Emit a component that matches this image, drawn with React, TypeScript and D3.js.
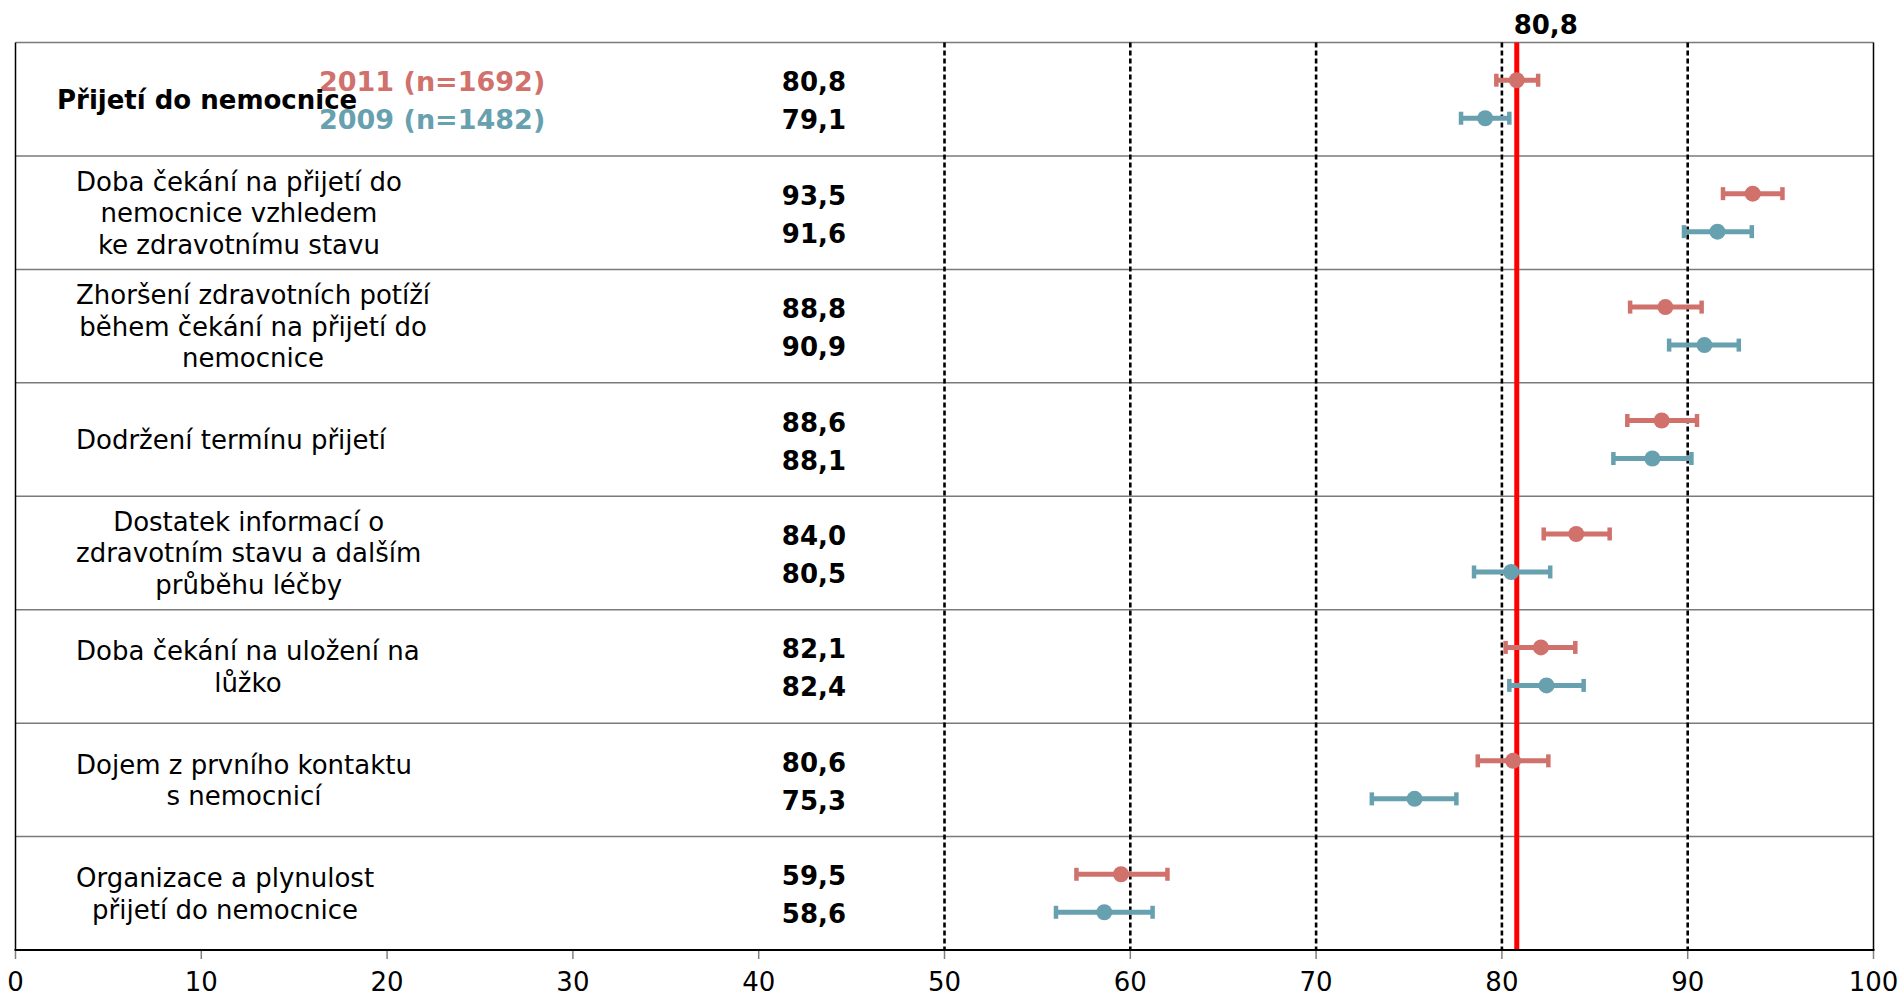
import React, { useEffect, useRef } from 'react';
import * as d3 from 'd3';

const categories = [
  'Přijetí do nemocnice',
  'Doba čekání na přijetí do nemocnice vzhledem ke zdravotnímu stavu',
  'Zhoršení zdravotních potíží během čekání na přijetí do nemocnice',
  'Dodržení termínu přijetí',
  'Dostatek informací o zdravotním stavu a dalším průběhu léčby',
  'Doba čekání na uložení na lůžko',
  'Dojem z prvního kontaktu s nemocnicí',
  'Organizace a plynulost přijetí do nemocnice',
];

const labelLines = [
  ['Přijetí do nemocnice'],
  ['Doba čekání na přijetí do', 'nemocnice vzhledem', 'ke zdravotnímu stavu'],
  ['Zhoršení zdravotních potíží', 'během čekání na přijetí do', 'nemocnice'],
  ['Dodržení termínu přijetí'],
  ['Dostatek informací o', 'zdravotním stavu a dalším', 'průběhu léčby'],
  ['Doba čekání na uložení na', 'lůžko'],
  ['Dojem z prvního kontaktu', 's nemocnicí'],
  ['Organizace a plynulost', 'přijetí do nemocnice'],
];

const values2011 = [80.8, 93.5, 88.8, 88.6, 84.0, 82.1, 80.6, 59.5];
const low2011 = [79.7, 91.9, 86.9, 86.75, 82.25, 80.2, 78.7, 57.1];
const high2011 = [81.95, 95.1, 90.75, 90.5, 85.8, 83.95, 82.5, 62.0];

const values2009 = [79.1, 91.6, 90.9, 88.1, 80.5, 82.4, 75.3, 58.6];
const low2009 = [77.8, 89.8, 89.0, 86.0, 78.5, 80.4, 73.0, 56.0];
const high2009 = [80.4, 93.45, 92.75, 90.2, 82.6, 84.4, 77.55, 61.2];

const xTicks = [0, 10, 20, 30, 40, 50, 60, 70, 80, 90, 100];
const gridValues = [50, 60, 70, 80, 90];
const referenceValue = 80.8;
const legendLabels = ['2011 (n=1692)', '2009 (n=1482)'];

const W = 1901;
const H = 998;
const RED = '#D0716C';
const BLUE = '#67A0AE';
const FONT = '"DejaVu Sans", Verdana, sans-serif';

const fmt = (v: number) => d3.format('.1f')(v).replace('.', ',');

export default function App() {
  const ref = useRef<SVGSVGElement | null>(null);

  useEffect(() => {
    const svg = d3.select(ref.current);
    svg.selectAll('*').remove();

    const x = d3.scaleLinear().domain([0, 100]).range([15.5, 1873.5]);
    const y = d3.scaleBand<string>().domain(categories).range([42.5, 950]).padding(0);
    const bw = y.bandwidth();
    const off = 19;

    svg.append('rect').attr('width', W).attr('height', H).attr('fill', '#fff');

    // row separators + top border
    svg.append('g').selectAll('line').data(categories).join('line')
      .attr('x1', x(0)).attr('x2', x(100))
      .attr('y1', (d) => y(d)!).attr('y2', (d) => y(d)!)
      .attr('stroke', '#7a7a7a').attr('stroke-width', 1.5);

    // dashed grid
    svg.append('g').selectAll('line').data(gridValues).join('line')
      .attr('x1', (d) => x(d)).attr('x2', (d) => x(d))
      .attr('y1', 42.5).attr('y2', 950)
      .attr('stroke', '#000').attr('stroke-width', 2.6)
      .attr('stroke-dasharray', '5,3');

    // reference line
    svg.append('line')
      .attr('x1', x(referenceValue)).attr('x2', x(referenceValue))
      .attr('y1', 42.5).attr('y2', 950)
      .attr('stroke', '#FF0000').attr('stroke-width', 5);

    const series = [
      { vals: values2011, lo: low2011, hi: high2011, color: RED, dy: -off },
      { vals: values2009, lo: low2009, hi: high2009, color: BLUE, dy: off },
    ];

    series.forEach((s) => {
      const g = svg.append('g');
      categories.forEach((c, i) => {
        const cy = y(c)! + bw / 2 + s.dy;
        g.append('line')
          .attr('x1', x(s.lo[i])).attr('x2', x(s.hi[i]))
          .attr('y1', cy).attr('y2', cy)
          .attr('stroke', s.color).attr('stroke-width', 5);
        [s.lo[i], s.hi[i]].forEach((v) => {
          g.append('line')
            .attr('x1', x(v)).attr('x2', x(v))
            .attr('y1', cy - 6.5).attr('y2', cy + 6.5)
            .attr('stroke', s.color).attr('stroke-width', 4.5);
        });
        g.append('circle')
          .attr('cx', x(s.vals[i])).attr('cy', cy).attr('r', 8)
          .attr('fill', s.color);
        // value label
        svg.append('text')
          .attr('x', 846).attr('y', cy + 11)
          .attr('text-anchor', 'end')
          .attr('font-family', FONT).attr('font-weight', 'bold')
          .attr('font-size', 26).attr('fill', '#000')
          .text(fmt(s.vals[i]));
      });
    });

    // borders
    svg.append('line').attr('x1', x(0)).attr('x2', x(0)).attr('y1', 42.5).attr('y2', 950)
      .attr('stroke', '#000').attr('stroke-width', 1.5);
    svg.append('line').attr('x1', x(100)).attr('x2', x(100)).attr('y1', 42.5).attr('y2', 950)
      .attr('stroke', '#000').attr('stroke-width', 1.5);

    // x axis
    const axis = svg.append('g').attr('transform', 'translate(0,950)');
    axis.append('line').attr('x1', x(0) - 1).attr('x2', x(100) + 1)
      .attr('stroke', '#000').attr('stroke-width', 2);
    axis.selectAll('line.tick').data(xTicks).join('line').attr('class', 'tick')
      .attr('x1', (d) => x(d)).attr('x2', (d) => x(d))
      .attr('y1', 1).attr('y2', 9)
      .attr('stroke', '#808080').attr('stroke-width', 1.5);
    axis.selectAll('text').data(xTicks).join('text')
      .attr('x', (d) => x(d)).attr('y', 41)
      .attr('text-anchor', 'middle')
      .attr('font-family', FONT).attr('font-size', 26).attr('fill', '#000')
      .text((d) => String(d));

    // legend
    legendLabels.forEach((l, i) => {
      const cy = y(categories[0])! + bw / 2 + (i === 0 ? -off : off);
      svg.append('text')
        .attr('x', 319).attr('y', cy + 11)
        .attr('font-family', FONT).attr('font-weight', 'bold')
        .attr('font-size', 27).attr('fill', i === 0 ? RED : BLUE)
        .text(l);
    });

    // row labels
    categories.forEach((c, i) => {
      const lines = labelLines[i];
      const cy = y(c)! + bw / 2;
      if (i === 0) {
        svg.append('text')
          .attr('x', 57).attr('y', cy + 10)
          .attr('font-family', FONT).attr('font-weight', 'bold')
          .attr('font-size', 26).attr('fill', '#000')
          .text(lines[0]);
        return;
      }
      const lh = 31.5;
      const t = svg.append('text')
        .attr('font-family', FONT).attr('font-size', 26).attr('fill', '#000')
        .attr('text-anchor', 'middle');
      const spans = lines.map((ln, j) =>
        t.append('tspan')
          .attr('y', cy + 9.5 + (j - (lines.length - 1) / 2) * lh)
          .text(ln)
      );
      let maxW = 0;
      spans.forEach((sp) => {
        const n = sp.node() as SVGTSpanElement;
        maxW = Math.max(maxW, n.getComputedTextLength());
      });
      spans.forEach((sp) => sp.attr('x', 76 + maxW / 2));
    });

    // reference label
    svg.append('text')
      .attr('x', x(referenceValue) + 29).attr('y', 34)
      .attr('text-anchor', 'middle')
      .attr('font-family', FONT).attr('font-weight', 'bold')
      .attr('font-size', 26).attr('fill', '#000')
      .text(fmt(referenceValue));
  }, []);

  return (
    <svg
      ref={ref}
      width={W}
      height={H}
      style={{ position: 'absolute', left: 0, top: 0, display: 'block' }}
    />
  );
}
